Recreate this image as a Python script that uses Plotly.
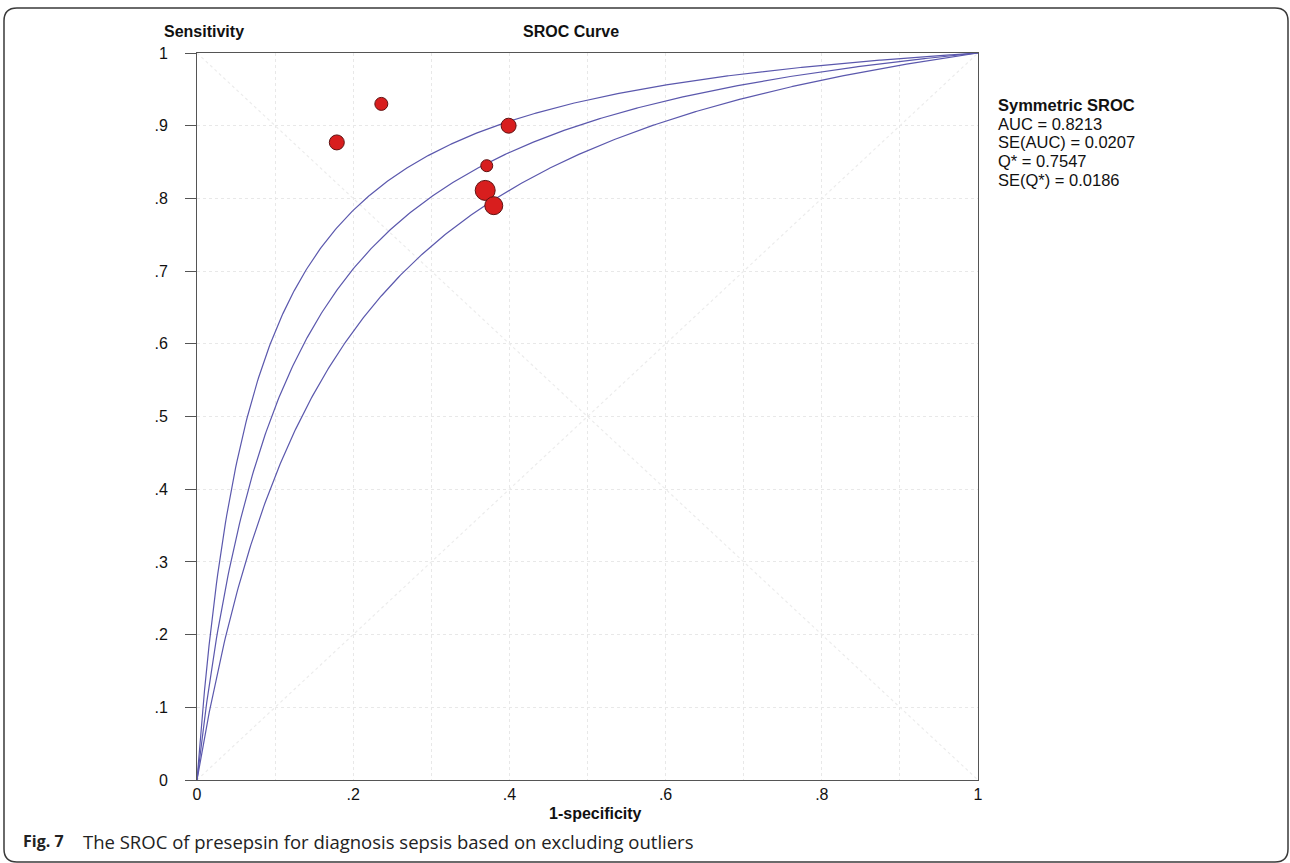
import numpy as np
import plotly.graph_objects as go

# Study estimates (1-specificity, sensitivity) and relative marker size
fpr = [0.236, 0.179, 0.399, 0.371, 0.369, 0.380]
tpr = [0.930, 0.877, 0.900, 0.845, 0.811, 0.790]
weight = [13, 15, 15, 12, 20, 18]

# Symmetric SROC summary
auc = 0.8213
se_auc = 0.0207
q_star = 0.7547
se_q = 0.0186

x_ticks = [0, 0.2, 0.4, 0.6, 0.8, 1]
x_tick_text = ["0", ".2", ".4", ".6", ".8", "1"]
y_ticks = [0, 0.1, 0.2, 0.3, 0.4, 0.5, 0.6, 0.7, 0.8, 0.9, 1]
y_tick_text = ["0", ".1", ".2", ".3", ".4", ".5", ".6", ".7", ".8", ".9", "1"]

W, H = 1290, 863
L, R, T, B = 197, 978, 53, 780


def px(x, y):
    """Pixel position -> paper coordinates."""
    return (x - L) / (R - L), (B - y) / (B - T)


def sroc(q, f):
    # symmetric model: logit(TPR) = D + logit(FPR), with Q* = 1/(1+exp(-D/2))
    d = 2 * np.log(q / (1 - q))
    e = np.exp(d)
    return f * e / (1 - f + f * e)


f_grid = np.concatenate([np.linspace(0, 0.02, 200), np.linspace(0.02, 1, 600)])

fig = go.Figure()

# chance diagonals
for yy in ([0, 1], [1, 0]):
    fig.add_trace(go.Scatter(x=[0, 1], y=yy, mode="lines",
                             line=dict(color="#ececec", width=1.2, dash="dot"),
                             hoverinfo="skip", showlegend=False))

for q in [q_star + 2 * se_q, q_star, q_star - 2 * se_q]:
    fig.add_trace(go.Scatter(x=f_grid, y=sroc(q, f_grid), mode="lines",
                             line=dict(color="#5b58ad", width=1.2),
                             hoverinfo="skip", showlegend=False))

fig.add_trace(go.Scatter(x=fpr, y=tpr, mode="markers",
                         marker=dict(size=weight, color="#d81e1e", opacity=1,
                                     line=dict(color="#5e1212", width=1)),
                         showlegend=False))

ax_font = dict(family="Liberation Sans, Arial, sans-serif", size=16, color="#111")
grid_col = "#e8e8e8"

fig.update_xaxes(range=[0, 1], tickvals=x_ticks, ticktext=x_tick_text,
                 showline=True, linecolor="#555", linewidth=1, mirror=True,
                 ticks="", showgrid=True, gridcolor=grid_col, griddash="dot",
                 minor=dict(dtick=0.1, showgrid=True, gridcolor=grid_col, griddash="dot"),
                 zeroline=False, tickfont=ax_font, ticklabelstandoff=0)
fig.update_yaxes(range=[0, 1], tickvals=y_ticks, ticktext=y_tick_text,
                 showline=True, linecolor="#555", linewidth=1, mirror=True,
                 ticks="outside", ticklen=11, tickcolor="#555", tickwidth=1,
                 showgrid=True, gridcolor=grid_col, griddash="dot",
                 zeroline=False, tickfont=ax_font, ticklabelstandoff=14)

ann = []


def text(x, y, s, size=16, bold=False, xanchor="left", family="Liberation Sans, Arial, sans-serif"):
    xp, yp = px(x, y)
    ann.append(dict(x=xp, y=yp, xref="paper", yref="paper", text=f"<b>{s}</b>" if bold else s,
                    showarrow=False, xanchor=xanchor, yanchor="middle",
                    font=dict(family=family, size=size, color="#111")))


text(162, 32, "Sensitivity", bold=True)
text(571, 32, "SROC Curve", bold=True, xanchor="center")
text(595, 813, "1-specificity", bold=True, xanchor="center")

legend_lines = [
    ("Symmetric SROC", True),
    (f"AUC = {auc:.4f}", False),
    (f"SE(AUC) = {se_auc:.4f}", False),
    (f"Q* = {q_star:.4f}", False),
    (f"SE(Q*) = {se_q:.4f}", False),
]
for i, (s, b) in enumerate(legend_lines):
    text(996, 105 + 18.7 * i, s, size=16.5, bold=b)

xp, yp = px(21, 841)
ann.append(dict(x=xp, y=yp, xref="paper", yref="paper", showarrow=False,
                xanchor="left", yanchor="middle",
                text="<b>Fig. 7</b>",
                font=dict(family="Open Sans, Noto Sans, sans-serif", size=16, color="#222")))
xp, yp = px(81, 841)
ann.append(dict(x=xp, y=yp, xref="paper", yref="paper", showarrow=False,
                xanchor="left", yanchor="middle",
                text="The SROC of presepsin for diagnosis sepsis based on excluding outliers",
                font=dict(family="Open Sans, Noto Sans, sans-serif", size=18.5, color="#222")))

# rounded frame around the figure
x0, y0, x1, y1, r = 4, 8, 1288, 862, 13
pts = [("M", x0, y0 + r), ("Q", x0, y0, x0 + r, y0), ("L", x1 - r, y0), ("Q", x1, y0, x1, y0 + r),
       ("L", x1, y1 - r), ("Q", x1, y1, x1 - r, y1), ("L", x0 + r, y1), ("Q", x0, y1, x0, y1 - r)]
path = ""
for p in pts:
    cmd, coords = p[0], p[1:]
    seg = []
    for k in range(0, len(coords), 2):
        a, b = px(coords[k], coords[k + 1])
        seg.append(f"{a:.5f},{b:.5f}")
    path += cmd + " ".join(seg) + " "
path += "Z"

fig.update_layout(
    width=W, height=H,
    margin=dict(l=L, r=W - R, t=T, b=H - B),
    paper_bgcolor="white", plot_bgcolor="white",
    annotations=ann,
    shapes=[dict(type="path", path=path, xref="paper", yref="paper",
                 line=dict(color="#3a3a3a", width=1.5))],
)

fig.write_html("out.html")
